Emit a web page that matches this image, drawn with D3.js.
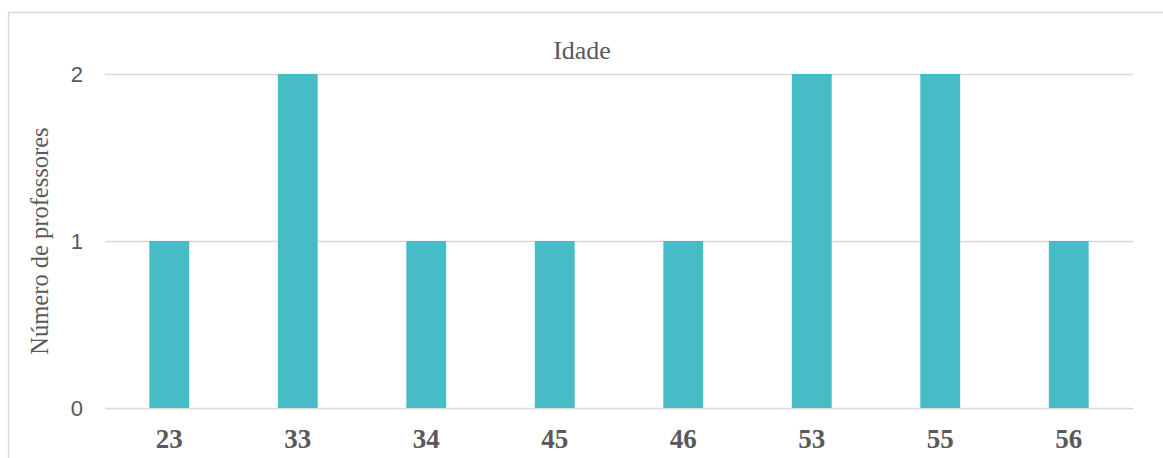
<!DOCTYPE html>
<html><head><meta charset="utf-8">
<script src="https://cdn.jsdelivr.net/npm/d3@7"></script>
<style>body{margin:0;background:#fff}svg{display:block}</style>
</head><body>
<svg id="c" width="1163" height="458"></svg>
<script>
const categories = ["23","33","34","45","46","53","55","56"];
const values = [1,2,1,1,1,2,2,1];
const yTicks = [0,1,2];

const svg = d3.select("#c");
const W = 1163, H = 458;
const m = {left:105, right:30, top:74, bottom:50};

svg.append("rect").attr("x",8.5).attr("y",12.5).attr("width",W+10).attr("height",H+10)
  .attr("fill","#fff").attr("stroke","#d9d9d9").attr("stroke-width",1.5);

const x = d3.scaleBand().domain(categories).range([m.left, W-m.right]).paddingInner(0.69).paddingOuter(0.345);
const y = d3.scaleLinear().domain([0,2]).range([H-m.bottom, m.top]);

svg.append("g").selectAll("line").data(yTicks).join("line")
  .attr("x1",m.left).attr("x2",W-m.right)
  .attr("y1",d=>y(d)+0.5).attr("y2",d=>y(d)+0.5)
  .attr("stroke","#d9d9d9").attr("stroke-width",1.5);

svg.append("g").selectAll("rect").data(values).join("rect")
  .attr("x",(d,i)=>x(categories[i])).attr("width",x.bandwidth())
  .attr("y",d=>y(d)).attr("height",d=>y(0)-y(d))
  .attr("fill","#47bbc6");

const ya = d3.axisLeft(y).tickValues(yTicks).tickFormat(d3.format("d")).tickSize(0).tickPadding(22);
const gy = svg.append("g").attr("transform",`translate(${m.left},0)`).call(ya);
gy.select(".domain").remove();
gy.selectAll("text").attr("font-family","Liberation Sans, Arial, sans-serif").attr("font-size",22).attr("fill","#595959").attr("dy","0.36em");

const xa = d3.axisBottom(x).tickSize(0);
const gx = svg.append("g").attr("transform",`translate(0,${y(0)})`).call(xa);
gx.select(".domain").remove();
gx.selectAll("text").attr("y",40).attr("dy",0).attr("font-family","Liberation Serif, Times New Roman, serif").attr("font-size",27)
  .attr("font-weight","bold").attr("fill","#595959");

svg.append("text").attr("x",582).attr("y",59).attr("text-anchor","middle")
  .attr("font-family","Liberation Serif, Times New Roman, serif").attr("font-size",26).attr("fill","#595959").text("Idade");

svg.append("text").attr("transform",`translate(48,${(y(0)+y(2))/2}) rotate(-90)`).attr("text-anchor","middle")
  .attr("font-family","Liberation Serif, Times New Roman, serif").attr("font-size",24.5).attr("fill","#595959").text("Número de professores");
</script>
</body></html>
